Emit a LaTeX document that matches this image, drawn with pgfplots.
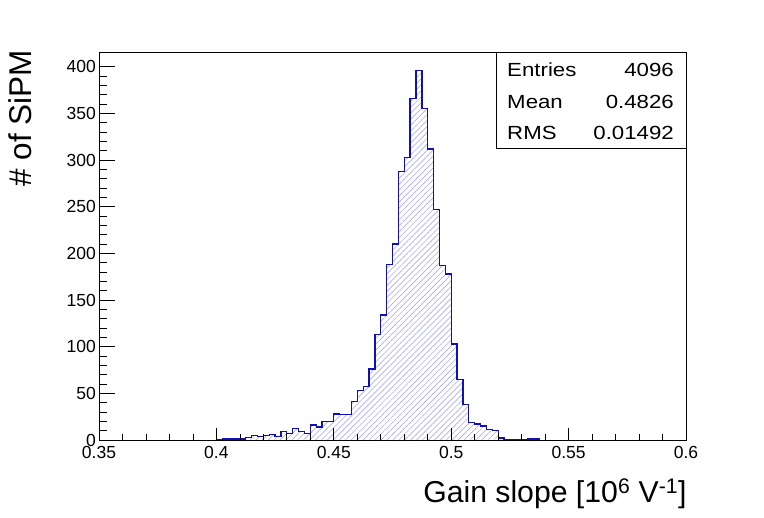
\documentclass[border=0pt]{standalone}
\usepackage{pgfplots}
\usepackage{pgfplotstable}
\pgfplotsset{compat=1.18}
\usepackage{fontspec}
\setmainfont{Liberation Sans}
\usetikzlibrary{patterns.meta}
\definecolor{histblue}{HTML}{1010B8}
\definecolor{hatchblue}{HTML}{ACACF4}
\pgfplotstableread{
x y
0.4 0
0.4025 1
0.405 1
0.4075 1
0.41 1
0.4125 3
0.415 5
0.4175 4
0.42 5
0.4225 6
0.425 4
0.4275 9
0.43 7
0.4325 12
0.435 9
0.4375 7
0.44 16
0.4425 14
0.445 20
0.4475 20
0.45 28
0.4525 27
0.455 27
0.4575 41
0.46 53
0.4625 57
0.465 76
0.4675 113
0.47 134
0.4725 188
0.475 210
0.4775 288
0.48 303
0.4825 366
0.485 396
0.4875 355
0.49 312
0.4925 247
0.495 187
0.4975 178
0.5 103
0.5025 65
0.505 38
0.5075 19
0.51 17
0.5125 15
0.515 11
0.5175 10
0.52 2
0.5225 0
0.525 0
0.5275 0
0.53 0
0.5325 1
0.535 1
0.5375 0
}\hist
\begin{document}
\begin{tikzpicture}
\path[use as bounding box] (-99pt,-78pt) rectangle (665pt,440pt);
\begin{axis}[
  at={(0pt,0pt)}, anchor=south west,
  scale only axis, width=587pt, height=388pt,
  xmin=0.35, xmax=0.6, ymin=0, ymax=415.8,
  xtick={0.35,0.4,0.45,0.5,0.55,0.6},
  xticklabels={0.35,0.4,0.45,0.5,0.55,0.6},
  ytick={0,50,100,150,200,250,300,350,400},
  minor x tick num=4, minor y tick num=4,
  xtick pos=bottom, ytick pos=left,
  tick align=inside,
  major tick length=16pt, minor tick length=8pt,
  x tick style={/pgfplots/major tick length=11.7pt,/pgfplots/minor tick length=6pt},
  tick style={black, line width=0.7pt},
  axis line style={line width=0.8pt},
  /pgf/number format/assume math mode=true,
  ticklabel style={font=\fontsize{17.5}{20}\selectfont},
  yticklabel style={inner xsep=3pt},
  xticklabel style={inner ysep=6.5pt},
  axis on top,
]
\addplot[const plot mark left, draw=none,
  pattern={Lines[angle=45,distance=4.2pt,line width=0.65pt]}, pattern color=hatchblue]
  table[x=x,y=y] {\hist} \closedcycle;
\addplot[const plot mark left, color=histblue, line width=1.3pt, fill=none]
  table[x=x,y=y] {\hist};
\end{axis}
\draw[line width=0.8pt, fill=white] (397pt,291.3pt) rectangle (587pt,388pt);
\begin{scope}[every node/.style={font=\fontsize{19}{22}\selectfont, inner sep=0pt, xscale=1.17}]
\node[anchor=base west] at (408pt,363.3pt) {Entries};
\node[anchor=base east] at (575pt,363.3pt) {4096};
\node[anchor=base west] at (408pt,331.7pt) {Mean};
\node[anchor=base east] at (575pt,331.7pt) {0.4826};
\node[anchor=base west] at (408pt,300pt) {RMS};
\node[anchor=base east] at (575pt,300pt) {0.01492};
\end{scope}
\node[anchor=base east, inner sep=0pt, font=\fontsize{30.2}{34}\selectfont] at (587.7pt,-62.7pt) {Gain slope [10\textsuperscript{6} V\textsuperscript{-1}]};
\node[anchor=base east, rotate=90, inner sep=0pt, font=\fontsize{31.5}{34}\selectfont] at (-67.5pt,390pt) {\# of SiPM};
\end{tikzpicture}
\end{document}
